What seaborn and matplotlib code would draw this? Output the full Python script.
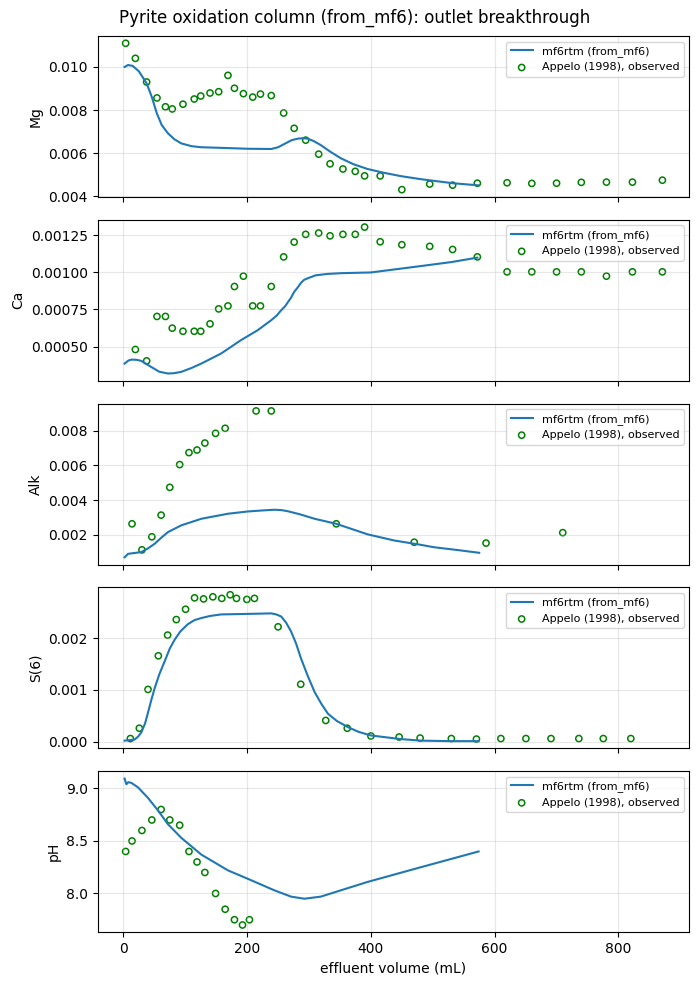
import matplotlib
matplotlib.use("Agg")
import matplotlib.pyplot as plt
import seaborn as sns
import numpy as np

# ---------------- data ----------------
mg_line_x = [2, 7.5, 15, 25, 37.6, 46, 54, 62, 72, 82, 93.5, 110, 126, 160, 201, 239, 250, 262, 272, 282, 290, 298, 308, 319, 335, 352, 372, 394.6, 420, 448, 480, 532, 574]
mg_line_y = [0.0100, 0.01009, 0.01005, 0.0098, 0.00924, 0.0086, 0.00785, 0.0073, 0.00692, 0.00665, 0.00645, 0.00632, 0.00627, 0.00624, 0.0062, 0.00619, 0.00627, 0.00645, 0.0066, 0.00667, 0.00669, 0.00667, 0.00655, 0.00637, 0.00605, 0.00575, 0.00548, 0.00526, 0.00509, 0.00493, 0.00479, 0.0046, 0.0045]

obs_x_mgca = [3.7, 19.4, 37.6, 54.3, 68, 79, 96.3, 114.5, 125, 140, 154, 169, 179.5, 194, 209, 221.5, 239, 259, 276, 294.6, 315.6, 334, 354.8, 374.7, 389.8, 415, 450, 495, 532, 572, 620, 660, 700, 740, 780.6, 822.6, 871]
mg_obs = [0.0111, 0.0104, 0.0093, 0.00856, 0.00815, 0.00805, 0.00827, 0.00851, 0.00865, 0.00879, 0.00885, 0.00961, 0.00901, 0.00876, 0.0086, 0.00874, 0.00867, 0.00786, 0.00715, 0.0066, 0.00595, 0.0055, 0.00526, 0.00515, 0.00494, 0.00494, 0.0043, 0.00456, 0.00451, 0.0046, 0.00462, 0.00459, 0.0046, 0.00464, 0.00465, 0.00465, 0.00474]

ca_line_x = [2, 8, 13, 22, 29, 38, 45, 58, 72, 82, 93.5, 110, 126, 158, 190, 217, 239, 248, 255, 261, 266, 271, 276, 282, 287, 292, 297.6, 304, 310, 330, 352, 400, 437.6, 480.6, 530, 572]
ca_line_y = [0.000385, 0.000405, 0.000412, 0.00041, 0.000403, 0.00038, 0.000362, 0.00033, 0.000318, 0.00032, 0.000329, 0.000355, 0.000385, 0.000453, 0.000543, 0.00061, 0.000678, 0.00071, 0.000745, 0.00077, 0.0008, 0.00083, 0.000869, 0.0009, 0.00093, 0.00095, 0.00096, 0.00097, 0.00098, 0.00099, 0.000995, 0.001, 0.00102, 0.001043, 0.00107, 0.0011]
ca_obs = [0.00048, 0.000403, 0.000703, 0.000703, 0.000624, 0.000603, 0.000603, 0.000603, 0.000653, 0.000754, 0.000774, 0.000905, 0.000975, 0.000774, 0.000774, 0.000905, 0.001105, 0.001205, 0.001257, 0.001266, 0.001247, 0.001257, 0.001257, 0.001306, 0.001207, 0.001187, 0.001176, 0.001155, 0.001105, 0.001004, 0.001004, 0.001004, 0.001004, 0.000975, 0.001004, 0.001004]

alk_line_x = [2, 7.5, 18, 29, 40, 50.5, 61, 72, 93.5, 126, 169, 201, 225, 244, 255, 265, 285, 309, 344, 395, 437.6, 480.6, 502, 540, 575]
alk_line_y = [0.0007, 0.0009, 0.00095, 0.001, 0.00122, 0.00148, 0.00182, 0.00215, 0.00254, 0.00292, 0.00321, 0.00334, 0.0034, 0.00344, 0.00342, 0.00336, 0.00318, 0.00292, 0.00263, 0.00202, 0.00167, 0.00142, 0.00128, 0.00112, 0.00096]
alk_obs_x = [14, 30, 46, 61, 75, 91, 106, 119, 131.7, 149, 164.5, 214.5, 239, 344, 470, 586, 710]
alk_obs = [0.00263, 0.00113, 0.00188, 0.00313, 0.00473, 0.00604, 0.00673, 0.00688, 0.00728, 0.00784, 0.00813, 0.00913, 0.00913, 0.00263, 0.00157, 0.00152, 0.00212]

s6_line_x = [2, 10, 18, 24, 29, 35, 40, 45, 50.5, 58, 66.6, 75, 82.8, 92, 104, 115, 126, 140, 158, 201, 239, 247, 255, 263, 271, 279, 287, 298, 309, 320, 330.6, 345, 363, 380, 400, 448, 480.6, 530, 574]
s6_line_y = [0.00002, 0.00003, 0.00004, 0.0001, 0.00018, 0.00035, 0.00057, 0.0008, 0.00103, 0.0013, 0.00155, 0.0018, 0.00197, 0.00213, 0.00227, 0.00235, 0.00239, 0.00243, 0.00246, 0.00247, 0.00248, 0.00246, 0.00242, 0.0023, 0.00213, 0.0019, 0.00161, 0.00127, 0.00096, 0.00073, 0.00054, 0.0004, 0.00028, 0.00019, 0.00012, 0.00005, 0.00002, 0.00001, 0.00001]
s6_obs_x = [11.3, 25.8, 39.8, 56.5, 71.5, 85.5, 100.5, 115, 129.6, 144.6, 159, 172.6, 182.8, 199.5, 211.8, 250, 286.6, 327, 361.8, 400, 445.6, 479.5, 530, 570.5, 610, 650.5, 691, 736, 775.5, 820]
s6_obs = [0.00006, 0.00026, 0.00101, 0.00166, 0.00206, 0.00236, 0.00256, 0.00278, 0.00276, 0.0028, 0.00277, 0.00284, 0.00277, 0.00275, 0.00277, 0.00222, 0.00111, 0.00041, 0.00026, 0.00011, 0.00009, 0.00007, 0.00006, 0.00005, 0.00006, 0.00006, 0.00006, 0.00006, 0.00006, 0.00006]

ph_line_x = [2, 4.8, 8, 13, 23.7, 39.8, 56, 72, 93.5, 126, 169, 201, 244, 271, 292.5, 319, 394.6, 480.6, 574]
ph_line_y = [9.094, 9.04, 9.06, 9.053, 9.01, 8.91, 8.79, 8.66, 8.53, 8.37, 8.22, 8.14, 8.03, 7.97, 7.95, 7.97, 8.11, 8.25, 8.40]
ph_obs_x = [3.7, 14, 30, 46, 61, 75, 91, 106, 119, 131.7, 149, 164.5, 179.5, 192.5, 203.7]
ph_obs = [8.4, 8.5, 8.6, 8.7, 8.8, 8.7, 8.65, 8.4, 8.3, 8.2, 8.0, 7.85, 7.75, 7.7, 7.75]

panel_labels = ["Mg", "Ca", "Alk", "S(6)", "pH"]
line_label = "mf6rtm (from_mf6)"
obs_label = "Appelo (1998), observed"
title = "Pyrite oxidation column (from_mf6): outlet breakthrough"
xlabel = "effluent volume (mL)"

panels = [
    (mg_line_x, mg_line_y, obs_x_mgca, mg_obs),
    (ca_line_x, ca_line_y, obs_x_mgca[1:], ca_obs),
    (alk_line_x, alk_line_y, alk_obs_x, alk_obs),
    (s6_line_x, s6_line_y, s6_obs_x, s6_obs),
    (ph_line_x, ph_line_y, ph_obs_x, ph_obs),
]

# ---------------- plot ----------------
fig, axes = plt.subplots(5, 1, figsize=(6.98, 9.85), dpi=100, sharex=True)
fig.subplots_adjust(left=0.14, right=0.9875, top=0.9635, bottom=0.0535, hspace=0.1416)

for ax, (lx, ly, ox, oy), lab in zip(axes, panels, panel_labels):
    sns.lineplot(x=lx, y=ly, ax=ax, color="#1f77b4", linewidth=1.5,
                 estimator=None, sort=False, label=line_label)
    sns.scatterplot(x=ox, y=oy, ax=ax, marker="o", s=20, facecolor="none",
                    edgecolor="green", linewidth=1.1, label=obs_label)
    ax.set_ylabel(lab, fontsize=10)
    ax.grid(True, alpha=0.3)
    ax.legend(loc="upper right", fontsize=8)

axes[-1].set_xlabel(xlabel, fontsize=10)
fig.suptitle(title, fontsize=12, x=0.508, y=0.991)

fig.savefig("out.png", dpi=100)
